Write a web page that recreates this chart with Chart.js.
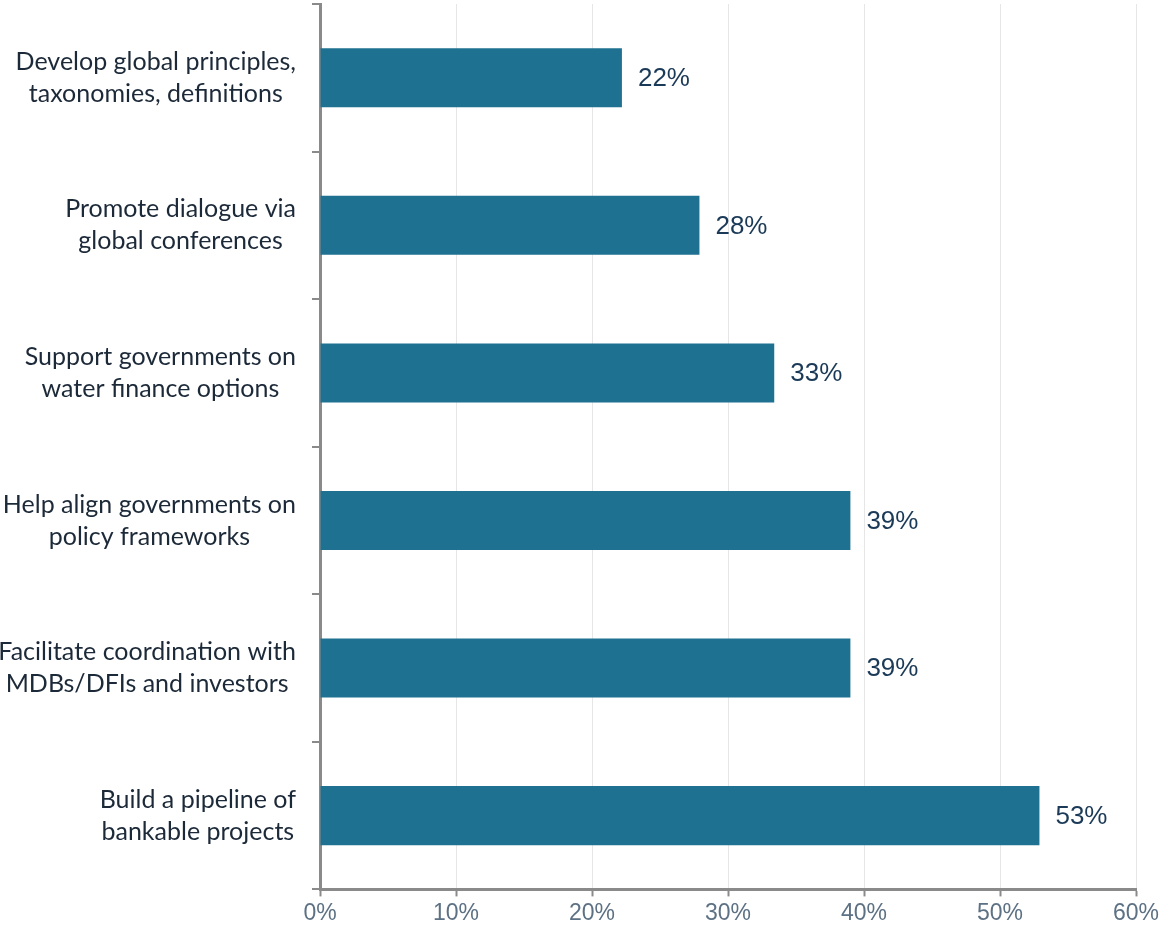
<!DOCTYPE html>
<html>
<head>
<meta charset="utf-8">
<script src="https://cdn.jsdelivr.net/npm/chart.js@4.4.1/dist/chart.umd.min.js"></script>
<style>
  html, body { margin: 0; padding: 0; background: #fff; }
  #wrap { width: 1161px; height: 930px; position: relative; }
</style>
</head>
<body>
<div id="wrap"><canvas id="myChart"></canvas></div>
<script>
// categories, top to bottom
var categories = [
	["Develop global principles,", "taxonomies, definitions"],
	["Promote dialogue via", "global conferences"],
	["Support governments on", "water finance options"],
	["Help align governments on", "policy frameworks"],
	["Facilitate coordination with", "MDBs/DFIs and investors"],
	["Build a pipeline of", "bankable projects"]
];
var shares = [22.2, 27.9, 33.4, 39.0, 39.0, 52.9];
var shareLabels = ["22%", "28%", "33%", "39%", "39%", "53%"];
var xTicks = [0, 10, 20, 30, 40, 50, 60];

var labelFont = "25px Lato, 'Open Sans', sans-serif";
var labelLineHeight = 32;

// draws the value text to the right of each bar
var valueLabels = {
	id: "valueLabels",
	afterDatasetsDraw: function (chart) {
		var ctx = chart.ctx;
		var meta = chart.getDatasetMeta(0);
		ctx.save();
		ctx.font = "26px 'Liberation Sans', Arial, sans-serif";
		ctx.fillStyle = "#1b3a57";
		ctx.textAlign = "left";
		ctx.textBaseline = "middle";
		meta.data.forEach(function (bar, i) {
			ctx.fillText(shareLabels[i], bar.x + 16, bar.y + 1);
		});
		ctx.restore();
	}
};

// category labels: block right-aligned to the axis, lines centred within the block
var categoryLabels = {
	id: "categoryLabels",
	afterDraw: function (chart) {
		var ctx = chart.ctx;
		var yScale = chart.scales.y;
		var right = yScale.right - 24;
		ctx.save();
		ctx.font = labelFont;
		ctx.fillStyle = "#1c2938";
		ctx.textAlign = "center";
		ctx.textBaseline = "middle";
		categories.forEach(function (lines, i) {
			var w = 0;
			lines.forEach(function (l) { w = Math.max(w, ctx.measureText(l).width); });
			var cx = right - w / 2;
			var cy = yScale.getPixelForTick(i);
			var y0 = cy - (lines.length - 1) * labelLineHeight / 2;
			lines.forEach(function (l, k) {
				ctx.fillText(l, cx, y0 + k * labelLineHeight);
			});
		});
		ctx.restore();
	}
};

var ctx = document.getElementById("myChart").getContext("2d");
var myChart = new Chart(ctx, {
	type: "bar",
	data: {
		labels: categories,
		datasets: [
			{
				data: shares,
				backgroundColor: "#1e7191",
				barPercentage: 0.4,
				categoryPercentage: 1.0
			}
		]
	},
	options: {
		indexAxis: "y",
		responsive: true,
		maintainAspectRatio: false,
		animation: false,
		layout: { padding: { top: 4, right: 25, left: 0, bottom: 0 } },
		plugins: {
			legend: { display: false },
			tooltip: { enabled: false }
		},
		scales: {
			x: {
				min: 0,
				max: 60,
				afterBuildTicks: function (axis) {
					axis.ticks = xTicks.map(function (v) { return { value: v }; });
				},
				afterFit: function (axis) {
					axis.paddingLeft = 0;
					axis.paddingRight = 0;
				},
				grid: {
					color: "#e6e6e6",
					lineWidth: 1,
					tickColor: "#8a8a8a",
					tickLength: 7,
					tickWidth: 2
				},
				border: { color: "#8a8a8a", width: 3 },
				ticks: {
					color: "#5d7184",
					font: { family: "'Liberation Sans', Arial, sans-serif", size: 23 },
					padding: 3,
					callback: function (v) { return v + "%"; }
				}
			},
			y: {
				afterFit: function (axis) {
					axis.width = 320;
					// labels sit inside their bands, no extra room needed
					axis.paddingTop = 0;
					axis.paddingBottom = 0;
				},
				grid: {
					drawOnChartArea: false,
					color: "#8a8a8a",
					tickLength: 8,
					lineWidth: 2,
					offset: true
				},
				border: { color: "#8a8a8a", width: 3 },
				ticks: {
					color: "rgba(0,0,0,0)",
					font: { family: "Lato, 'Open Sans', sans-serif", size: 25, lineHeight: 1.3 },
					padding: 18
				}
			}
		}
	},
	plugins: [valueLabels, categoryLabels]
});
</script>
</body>
</html>
